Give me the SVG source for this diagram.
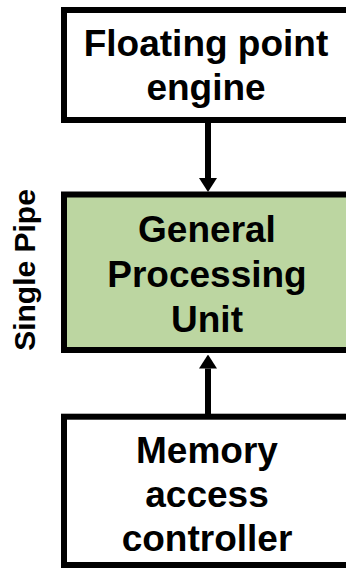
<svg xmlns="http://www.w3.org/2000/svg" width="346" height="571" viewBox="0 0 346 571">
  <style>
    .box { stroke: #000; stroke-width: 6; }
    .plain { fill: #fff; }
    .core { fill: #BCD6A1; }
    .label { font-family: "Liberation Sans", Arial, sans-serif; font-weight: bold; font-size: 37px; fill: #000; text-anchor: middle; }
    .side { font-family: "Liberation Sans", Arial, sans-serif; font-weight: bold; font-size: 30px; fill: #000; text-anchor: middle; }
    .wire { stroke: #000; stroke-width: 6; fill: none; }
  </style>
  <defs>
    <marker id="head" viewBox="0 0 14 18" refX="0" refY="9" markerWidth="14" markerHeight="18" markerUnits="userSpaceOnUse" orient="auto">
      <path d="M0,0 L14,9 L0,18 Z" fill="#000"/>
    </marker>
  </defs>

  <rect width="346" height="571" fill="#fff"/>

  <!-- side label -->
  <text class="side" transform="translate(35,270) rotate(-90)">Single Pipe</text>

  <!-- connectors -->
  <g id="connectors">
    <path class="wire" d="M208,123 L208,178" marker-end="url(#head)"/>
    <path class="wire" d="M208,414 L208,368.5" marker-end="url(#head)"/>
  </g>

  <g id="fpe">
    <rect class="box plain" x="64" y="10" width="300" height="110"/>
    <text class="label" x="206" y="56">Floating point</text>
    <text class="label" x="206" y="100">engine</text>
  </g>

  <g id="gpu">
    <rect class="box core" x="64" y="194.5" width="300" height="155.5"/>
    <text class="label" x="207" y="242">General</text>
    <text class="label" x="207" y="287">Processing</text>
    <text class="label" x="207" y="332">Unit</text>
  </g>

  <g id="mac">
    <rect class="box plain" x="64" y="416.7" width="300" height="148.3"/>
    <text class="label" x="207" y="463">Memory</text>
    <text class="label" x="207" y="507">access</text>
    <text class="label" x="207" y="551">controller</text>
  </g>
</svg>
